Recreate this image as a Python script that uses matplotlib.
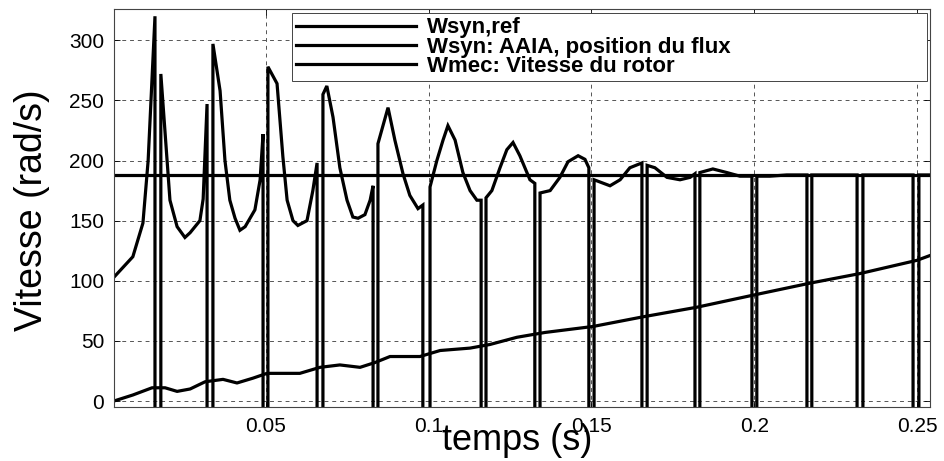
"""Vitesse: référence, AAIA (position du flux) et vitesse rotor."""

import matplotlib

matplotlib.use("Agg")
import matplotlib.pyplot as plt

plt.rcParams["font.family"] = ["Liberation Sans", "DejaVu Sans"]

# reference synchronous speed (rad/s)
T_REF = [0.0033, 0.2540]
W_REF = [188, 188]

# Wsyn estimated from the flux position (AAIA), points along the curve
SYN_T = [0.0033, 0.0091, 0.0122, 0.0138, 0.0159, 0.0177, 0.0205, 0.0227, 0.0251,
         0.0267, 0.0297, 0.0307, 0.0319, 0.0337, 0.0359, 0.0374, 0.0389, 0.0405,
         0.0420, 0.0436, 0.0466, 0.0482, 0.0491, 0.0506, 0.0534, 0.0552, 0.0565,
         0.0583, 0.0598, 0.0626, 0.0644, 0.0657, 0.0675, 0.0687, 0.0706, 0.0727,
         0.0749, 0.0767, 0.0783, 0.0804, 0.0820, 0.0829, 0.0844, 0.0875, 0.0896,
         0.0921, 0.0942, 0.0967, 0.0982, 0.1004, 0.1025, 0.1044, 0.1059, 0.1081,
         0.1105, 0.1127, 0.1148, 0.1161, 0.1176, 0.1194, 0.1219, 0.1240, 0.1259,
         0.1280, 0.1311, 0.1326, 0.1342, 0.1373, 0.1403, 0.1428, 0.1459, 0.1480,
         0.1492, 0.1508, 0.1557, 0.1588, 0.1618, 0.1655, 0.1671, 0.1695, 0.1732,
         0.1772, 0.1803, 0.1818, 0.1833, 0.1873, 0.1916, 0.1956, 0.1993, 0.2008,
         0.2048, 0.2100, 0.2162, 0.2177, 0.2316, 0.2334, 0.2488, 0.2506, 0.2540]
SYN_W = [103, 120, 148, 200, 320, 272, 167, 145, 136,
         140, 150, 168, 247, 297, 258, 200, 167, 152,
         142, 145, 159, 184, 222, 278, 264, 203, 167,
         150, 146, 150, 175, 198, 255, 262, 236, 194,
         167, 153, 152, 155, 167, 179, 214, 244, 217,
         189, 171, 160, 163, 178, 200, 217, 229, 217,
         190, 175, 167, 167, 169, 175, 194, 209, 215,
         204, 184, 181, 173, 175, 186, 199, 204, 201,
         194, 184, 179, 184, 194, 198, 196, 194, 186,
         184, 186, 189, 190, 193, 190, 187, 187, 187,
         187, 188, 188, 188, 188, 188, 188, 188, 188]

# angle wrap instants: signal dives off the bottom of the axes and comes back
WRAP_DOWN = [0.0159, 0.0319, 0.0491, 0.0657, 0.0829, 0.0982, 0.1161, 0.1326,
             0.1492, 0.1655, 0.1818, 0.1993, 0.2162, 0.2316, 0.2488]
WRAP_UP = [0.0177, 0.0337, 0.0506, 0.0675, 0.0844, 0.1004, 0.1176, 0.1342,
           0.1508, 0.1671, 0.1833, 0.2008, 0.2177, 0.2334, 0.2506]
WRAP_FLOOR = -60

# rotor mechanical speed
MEC_T = [0.0033, 0.0091, 0.0150, 0.0190, 0.0227, 0.0267, 0.0313, 0.0368, 0.0411,
         0.0460, 0.0503, 0.0543, 0.0604, 0.0666, 0.0727, 0.0789, 0.0835, 0.0881,
         0.0973, 0.1035, 0.1127, 0.1188, 0.1271, 0.1357, 0.1505, 0.1658, 0.1824,
         0.1996, 0.2171, 0.2325, 0.2500, 0.2540]
MEC_W = [0, 5, 11, 11, 8, 10, 16, 18, 15,
         19, 23, 23, 23, 28, 30, 28, 32, 37,
         37, 42, 44, 47, 53, 57, 62, 70, 78,
         88, 98, 106, 117, 121]

X_TICKS = [0.05, 0.1, 0.15, 0.2, 0.25]
X_TICKLABELS = ["0.05", "0.1", "0.15", "0.2", "0.25"]
Y_TICKS = [0, 50, 100, 150, 200, 250, 300]

LABELS = ["Wsyn,ref", "Wsyn: AAIA, position du flux", "Wmec: Vitesse du rotor"]


def syn_series():
    t_out, w_out = [], []
    for t, w in zip(SYN_T, SYN_W):
        t_out.append(t)
        w_out.append(w)
        if t in WRAP_DOWN:
            tu = WRAP_UP[WRAP_DOWN.index(t)]
            t_out += [t, tu]
            w_out += [WRAP_FLOOR, WRAP_FLOOR]
    return t_out, w_out


def main():
    fig = plt.figure(figsize=(9.45, 4.61), dpi=100)
    ax = fig.add_axes((0.1206, 0.1171, 0.8635, 0.8633))

    lw = 2.3
    t_syn, w_syn = syn_series()
    ax.plot(T_REF, W_REF, color="black", lw=lw, label=LABELS[0])
    ax.plot(t_syn, w_syn, color="black", lw=lw, label=LABELS[1],
            solid_joinstyle="miter")
    ax.plot(MEC_T, MEC_W, color="black", lw=lw, label=LABELS[2])

    ax.set_xlim(0.0033, 0.254)
    ax.set_ylim(-5, 326)
    ax.set_xticks(X_TICKS)
    ax.set_xticklabels(X_TICKLABELS)
    ax.set_yticks(Y_TICKS)
    ax.tick_params(direction="in", length=4, width=0.6, labelsize=15,
                   top=True, right=True, pad=7)
    ax.grid(True, color="#555555", lw=0.7, ls=(0, (4, 4)))
    for sp in ax.spines.values():
        sp.set_linewidth(0.8)
        sp.set_color("#444444")

    # label sits low, over the tick labels, as in the original figure
    ax.set_xlabel("temps (s)", fontsize=26)
    ax.xaxis.set_label_coords(0.494, -0.04)
    ax.set_ylabel("Vitesse (rad/s)", fontsize=27)
    ax.yaxis.set_label_coords(-0.078, 0.495)

    leg = ax.legend(loc="upper left", bbox_to_anchor=(0.218, 0.814, 0.778, 0.176),
                    mode="expand", borderaxespad=0, fancybox=False,
                    prop={"size": 16, "weight": "bold"}, handlelength=5.4,
                    handletextpad=0.5, labelspacing=-0.08, borderpad=0.2,
                    framealpha=1)
    leg.get_frame().set_edgecolor("#444444")
    leg.get_frame().set_linewidth(0.7)

    fig.savefig("out.png", dpi=100)
    plt.close(fig)


if __name__ == "__main__":
    main()
